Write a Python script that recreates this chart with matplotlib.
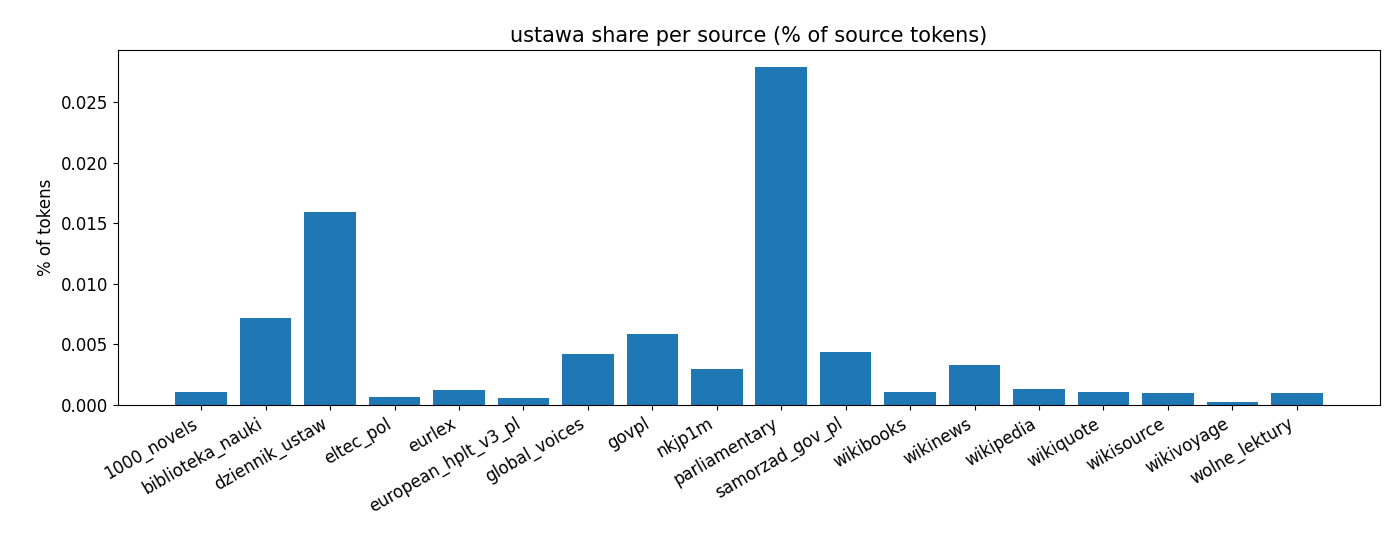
import matplotlib
matplotlib.use("Agg")
import matplotlib.pyplot as plt

sources = ["1000_novels","biblioteka_nauki","dziennik_ustaw","eltec_pol","eurlex",
           "european_hplt_v3_pl","global_voices","govpl","nkjp1m","parliamentary",
           "samorzad_gov_pl","wikibooks","wikinews","wikipedia","wikiquote",
           "wikisource","wikivoyage","wolne_lektury"]
share = [0.00108,0.0072,0.0159,0.00066,0.00124,0.00058,0.0042,0.00588,0.0030,0.0279,
         0.0044,0.00108,0.0033,0.00132,0.00108,0.0010,0.00025,0.0010]

fig = plt.figure(figsize=(14,5.6), dpi=100)
ax = fig.add_axes([118/1400, 1-405/560, (1380-118)/1400, (405-50)/560])
ax.bar(sources, share, color="#1f77b4")
ax.set_title("ustawa share per source (% of source tokens)", fontsize=15)
ax.set_ylabel("% of tokens", fontsize=12)
ax.tick_params(labelsize=12)
plt.setp(ax.get_xticklabels(), rotation=30, ha="right")
fig.savefig("out.png")
